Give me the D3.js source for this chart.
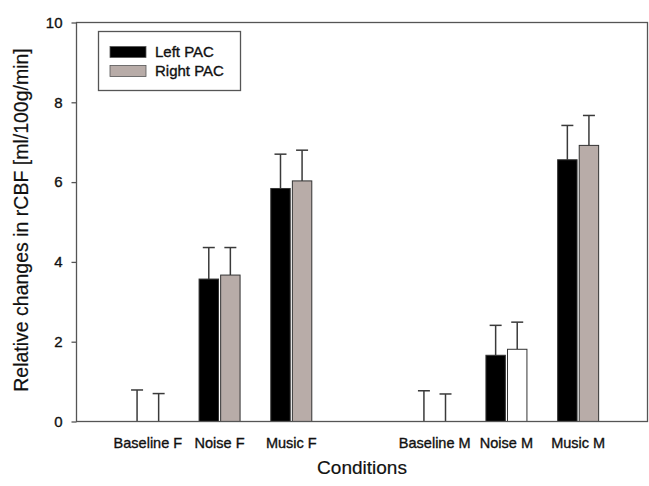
<!DOCTYPE html>
<html>
<head>
<meta charset="utf-8">
<script src="https://cdn.jsdelivr.net/npm/d3@7"></script>
<style>
  html, body { margin: 0; padding: 0; background: #fff; }
  svg { display: block; font-family: "Liberation Sans", Arial, sans-serif; }
  svg text { stroke: #111; stroke-width: 0.35px; }
</style>
</head>
<body>
<svg id="chart" width="649" height="486"></svg>
<script>
// ---- data ----
const categories = ["Baseline F", "Noise F", "Music F", "Baseline M", "Noise M", "Music M"];
const seriesNames = ["Left PAC", "Right PAC"];
const leftPAC  = [0, 3.57, 5.84, 0, 1.66, 6.56];
const rightPAC = [0, 3.67, 6.03, 0, 1.81, 6.92];
const leftErr  = [0.79, 0.79, 0.86, 0.77, 0.75, 0.86];
const rightErr = [0.70, 0.69, 0.77, 0.69, 0.68, 0.75];
const yTicks = [0, 2, 4, 6, 8, 10];
// bars drawn unfilled in the original
const hollowBars = [["Noise M", "Right PAC"]];

// ---- layout ----
const svg = d3.select("#chart");
const plot = { left: 76.5, right: 647.5, top: 22.5, bottom: 421.5 };
const colors = { "Left PAC": "#000000", "Right PAC": "#b8aca8" };
const axisColor = "#555";

// slot domain with an empty gap between F and M groups
const slotDomain = ["Baseline F", "Noise F", "Music F", "__gap__", "Baseline M", "Noise M", "Music M"];
const x = d3.scaleBand().domain(slotDomain).range([112, 614]).padding(0);
const xSub = d3.scaleBand().domain(seriesNames).range([-20.5, 20.5]).paddingInner(0.1);
const y = d3.scaleLinear().domain([0, 10]).range([plot.bottom, plot.top]);

const data = [];
categories.forEach((c, i) => {
  data.push({ cat: c, series: "Left PAC", value: leftPAC[i], err: leftErr[i] });
  data.push({ cat: c, series: "Right PAC", value: rightPAC[i], err: rightErr[i] });
});
const isHollow = d => hollowBars.some(h => h[0] === d.cat && h[1] === d.series);
const cx = d => x(d.cat) + x.bandwidth() / 2 + xSub(d.series) + xSub.bandwidth() / 2;

// error bars (drawn first so bars cover their lower part)
const eb = svg.append("g").attr("stroke", "#3a3a3a").attr("stroke-width", 1.5);
eb.selectAll("line.stem").data(data).join("line")
  .attr("x1", cx).attr("x2", cx)
  .attr("y1", d => y(d.value)).attr("y2", d => y(d.value + d.err));
eb.selectAll("line.cap").data(data).join("line")
  .attr("x1", d => cx(d) - 6).attr("x2", d => cx(d) + 6)
  .attr("y1", d => y(d.value + d.err)).attr("y2", d => y(d.value + d.err));

// bars
svg.append("g").selectAll("rect").data(data.filter(d => d.value > 0)).join("rect")
  .attr("x", d => cx(d) - xSub.bandwidth() / 2)
  .attr("width", xSub.bandwidth())
  .attr("y", d => y(d.value))
  .attr("height", d => y(0) - y(d.value))
  .attr("fill", d => isHollow(d) ? "#fff" : colors[d.series])
  .attr("stroke", "#333")
  .attr("stroke-width", 1);

// frame
svg.append("rect")
  .attr("x", plot.left).attr("y", plot.top)
  .attr("width", plot.right - plot.left).attr("height", plot.bottom - plot.top)
  .attr("fill", "none").attr("stroke", axisColor).attr("stroke-width", 1.3);

// y axis
const yAxis = svg.append("g")
  .attr("transform", `translate(${plot.left},0)`)
  .call(d3.axisLeft(y).tickValues(yTicks).tickSize(5).tickPadding(9).tickFormat(d3.format("d")));
yAxis.select(".domain").remove();
yAxis.selectAll(".tick line").attr("stroke", axisColor).attr("stroke-width", 1.3);
yAxis.selectAll(".tick text").attr("font-size", 15).attr("fill", "#111")
  .attr("font-family", "Liberation Sans, Arial, sans-serif");

// x axis labels
const xAxis = svg.append("g")
  .attr("transform", `translate(0,${plot.bottom})`)
  .call(d3.axisBottom(x).tickValues(categories).tickSize(0).tickPadding(16));
xAxis.select(".domain").remove();
xAxis.selectAll(".tick text").attr("font-size", 14.5).attr("fill", "#111")
  .attr("font-family", "Liberation Sans, Arial, sans-serif");

// axis titles
svg.append("text")
  .attr("x", (plot.left + plot.right) / 2).attr("y", 474)
  .attr("text-anchor", "middle").attr("font-size", 19).attr("fill", "#111")
  .style("stroke-width", "0.2px")
  .text("Conditions");
svg.append("text")
  .attr("transform", `translate(28,${(plot.top + plot.bottom) / 2 - 2}) rotate(-90)`)
  .attr("text-anchor", "middle").attr("font-size", 19.5).attr("fill", "#111")
  .style("stroke-width", "0.2px")
  .text("Relative changes in rCBF [ml/100g/min]");

// legend
const lg = svg.append("g");
lg.append("rect").attr("x", 98.5).attr("y", 31.5).attr("width", 142).attr("height", 59)
  .attr("fill", "#fff").attr("stroke", axisColor).attr("stroke-width", 1.3);
seriesNames.forEach((s, i) => {
  const yy = 46.5 + i * 19;
  lg.append("rect").attr("x", 110).attr("y", yy).attr("width", 36).attr("height", 11)
    .attr("fill", colors[s]).attr("stroke", "#555").attr("stroke-width", 0.8);
  lg.append("text").attr("x", 155).attr("y", yy + 10.5)
    .attr("font-size", 15).attr("fill", "#111").text(s);
});
</script>
</body>
</html>
